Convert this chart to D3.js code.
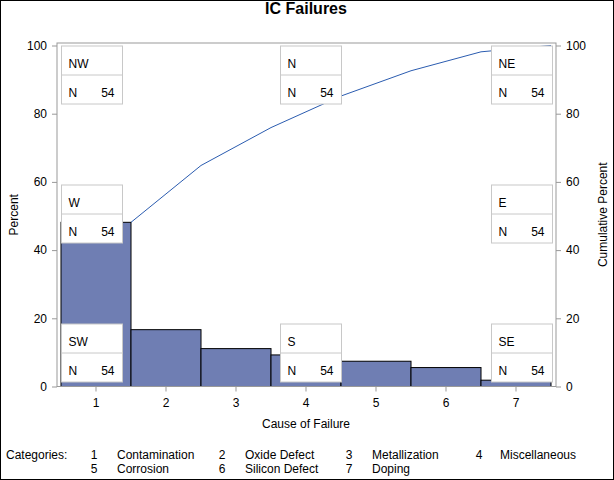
<!DOCTYPE html>
<html>
<head>
<meta charset="utf-8">
<script src="https://cdn.jsdelivr.net/npm/d3@7"></script>
<style>
  body { margin: 0; background: #fff; }
  svg text { font-family: Arial, "Liberation Sans", sans-serif; }
</style>
</head>
<body>
<svg id="chart" width="614" height="480"></svg>
<script>
// chart data
var codes = [1, 2, 3, 4, 5, 6, 7];
var causes = ['Contamination', 'Oxide Defect', 'Metallization', 'Miscellaneous',
              'Corrosion', 'Silicon Defect', 'Doping'];
var counts = [26, 9, 6, 5, 4, 3, 1];
var yTicks = [0, 20, 40, 60, 80, 100];
var insetPositions = ['NW', 'N', 'NE', 'W', 'E', 'SW', 'S', 'SE'];

var W = 614, H = 480;
var frame = {left: 57, right: 556, top: 43, bottom: 386.5};
var axisColor = '#999999';

var svg = d3.select('#chart');

var total = d3.sum(counts);
var pct = counts.map(function (c) { return c / total * 100; });
var cum = d3.cumsum(pct);

var x = d3.scaleBand()
    .domain(codes)
    .range([61, 551])
    .paddingInner(0);

var y = d3.scaleLinear()
    .domain([0, 100])
    .range([386.5, 45.5]);

// outer border
svg.append('rect')
    .attr('x', 0.5).attr('y', 0.5)
    .attr('width', W - 1).attr('height', H - 1)
    .attr('fill', 'none').attr('stroke', '#000');

// title
svg.append('text')
    .attr('x', 306).attr('y', 14)
    .attr('text-anchor', 'middle')
    .attr('font-size', 16).attr('font-weight', 'bold')
    .text('IC Failures');

// bars
svg.append('g').selectAll('rect')
    .data(codes)
  .enter().append('rect')
    .attr('x', function (d) { return x(d); })
    .attr('width', x.bandwidth())
    .attr('y', function (d, i) { return y(pct[i]); })
    .attr('height', function (d, i) { return y(0) - y(pct[i]); })
    .attr('fill', '#6f7eb3')
    .attr('stroke', '#000')
    .attr('stroke-width', 1);

// cumulative curve
var line = d3.line()
    .x(function (d) { return x(d) + x.bandwidth(); })
    .y(function (d, i) { return y(cum[i]); });

svg.append('path')
    .datum(codes)
    .attr('d', line)
    .attr('fill', 'none')
    .attr('stroke', '#2b5cb0')
    .attr('stroke-width', 1);

// frame
svg.append('rect')
    .attr('x', frame.left).attr('y', frame.top)
    .attr('width', frame.right - frame.left)
    .attr('height', frame.bottom - frame.top)
    .attr('fill', 'none').attr('stroke', axisColor);

// axes
function styleAxis(g) {
    g.select('.domain').remove();
    g.selectAll('.tick line').attr('stroke', axisColor);
    g.selectAll('.tick text').attr('fill', '#000').attr('font-size', 12)
        .attr('font-family', 'Arial, "Liberation Sans", sans-serif');
}

svg.append('g')
    .attr('transform', 'translate(' + frame.left + ',0)')
    .call(d3.axisLeft(y).tickValues(yTicks).tickSize(5).tickPadding(5))
    .call(styleAxis);

svg.append('g')
    .attr('transform', 'translate(' + frame.right + ',0)')
    .call(d3.axisRight(y).tickValues(yTicks).tickSize(5).tickPadding(5))
    .call(styleAxis);

svg.append('g')
    .attr('transform', 'translate(0,' + frame.bottom + ')')
    .call(d3.axisBottom(x).tickSize(5).tickPadding(7))
    .call(styleAxis);

// axis labels
svg.append('text')
    .attr('transform', 'translate(18,' + (frame.top + frame.bottom) / 2 + ') rotate(-90)')
    .attr('text-anchor', 'middle').attr('font-size', 12)
    .text('Percent');

svg.append('text')
    .attr('transform', 'translate(607,' + (frame.top + frame.bottom) / 2 + ') rotate(-90)')
    .attr('text-anchor', 'middle').attr('font-size', 12)
    .text('Cumulative Percent');

svg.append('text')
    .attr('x', 306).attr('y', 428)
    .attr('text-anchor', 'middle').attr('font-size', 12)
    .text('Cause of Failure');

// insets
var boxW = 61, boxH = 58;
var colX = {W: 61.5, C: 280.5, E: 491.5};
var rowY = {N: 46, C: 185, S: 324};

function insetXY(pos) {
    var col = pos.indexOf('W') >= 0 ? 'W' : (pos.indexOf('E') >= 0 ? 'E' : 'C');
    var row = pos.indexOf('N') === 0 ? 'N' : (pos.indexOf('S') === 0 ? 'S' : 'C');
    return [colX[col], rowY[row]];
}

var insets = svg.append('g').selectAll('g')
    .data(insetPositions)
  .enter().append('g')
    .attr('transform', function (d) {
        var p = insetXY(d);
        return 'translate(' + p[0] + ',' + p[1] + ')';
    });

insets.append('rect')
    .attr('width', boxW).attr('height', boxH)
    .attr('fill', '#fff').attr('stroke', '#c8c8c8');

insets.append('line')
    .attr('x1', 0).attr('x2', boxW)
    .attr('y1', boxH / 2).attr('y2', boxH / 2)
    .attr('stroke', '#c8c8c8');

insets.append('text')
    .attr('x', 7).attr('y', 21.5)
    .attr('font-size', 12)
    .text(function (d) { return d; });

insets.append('text')
    .attr('x', 7).attr('y', 50.5)
    .attr('font-size', 12)
    .text('N');

insets.append('text')
    .attr('x', boxW - 8).attr('y', 50.5)
    .attr('text-anchor', 'end')
    .attr('font-size', 12)
    .text(total);

// category legend
var legend = svg.append('g');
legend.append('text')
    .attr('x', 6).attr('y', 459)
    .attr('font-size', 12)
    .text('Categories:');

var numX = [94, 222, 349, 479];
var nameX = [117, 245, 372, 500];

var items = legend.selectAll('g.item')
    .data(codes)
  .enter().append('g')
    .attr('class', 'item');

items.append('text')
    .attr('x', function (d, i) { return numX[i % 4]; })
    .attr('y', function (d, i) { return i < 4 ? 459 : 473; })
    .attr('text-anchor', 'middle')
    .attr('font-size', 12)
    .text(function (d) { return d; });

items.append('text')
    .attr('x', function (d, i) { return nameX[i % 4]; })
    .attr('y', function (d, i) { return i < 4 ? 459 : 473; })
    .attr('font-size', 12)
    .text(function (d, i) { return causes[i]; });
</script>
</body>
</html>
